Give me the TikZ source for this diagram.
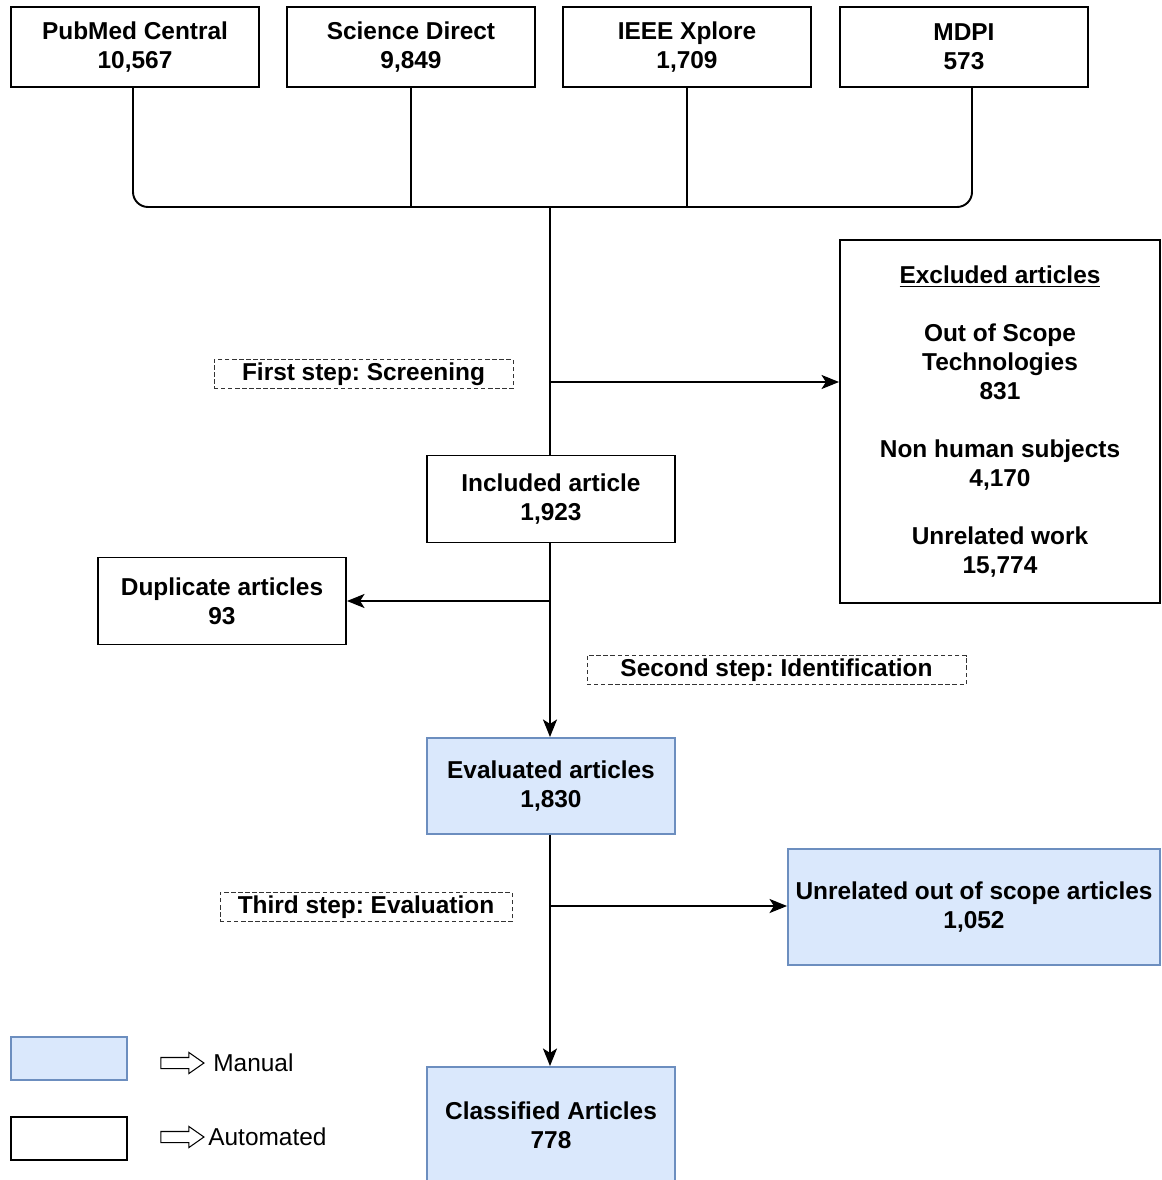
\documentclass[tikz,border=0pt]{standalone}
\usepackage{fontspec}
\setmainfont{Liberation Sans}
\frenchspacing
\usetikzlibrary{arrows.meta,shapes.arrows}
\definecolor{manfill}{HTML}{DAE8FC}
\definecolor{manline}{HTML}{6C8EBF}
\tikzset{
  txt/.style={font=\fontsize{13.9}{16.5}\selectfont\bfseries, align=center},
  autobox/.style={txt, draw=black, line width=1.1pt, fill=white, minimum width=4.96cm, minimum height=1.74cm, inner sep=0pt},
  manbox/.style={autobox, draw=manline, fill=manfill},
  steplabel/.style={txt, draw=black!80, line width=0.5pt, dash pattern=on 2.5pt off 1.5pt, minimum height=0.58cm, inner sep=0pt},
  arr/.style={line width=1.1pt, -{Stealth[length=10pt,width=8pt,inset=2.5pt]}},
  legarrow/.style={single arrow, draw=black, line width=0.6pt, minimum width=0.42cm, minimum height=0.86cm, single arrow head extend=0.1cm, single arrow tip angle=70, inner xsep=0pt, inner ysep=0.1cm}
}
\begin{document}
\begin{tikzpicture}[x=0.02cm, y=-0.02cm]
  \useasboundingbox (0,0) rectangle (1161,1180);
  % sources
  \node[autobox, minimum height=1.6cm] (pmc)  at (135,47) {PubMed Central\\10,567};
  \node[autobox, minimum height=1.6cm] (sd)   at (411,47) {Science Direct\\9,849};
  \node[autobox, minimum height=1.6cm] (ieee) at (687,47) {IEEE Xplore\\1,709};
  \node[autobox, minimum height=1.6cm] (mdpi) at (964,47) {MDPI\\573};
  \coordinate (bus) at (550,207);
  \draw[line width=1.1pt, rounded corners=0.3cm] (pmc.south -| 133,0) |- (bus) -| (mdpi.south -| 972,0);
  \draw[line width=1.1pt] (sd.south) -- (sd.south |- bus);
  \draw[line width=1.1pt] (ieee.south) -- (ieee.south |- bus);
  % screening
  \node[autobox, minimum width=6.4cm, minimum height=7.26cm] (excl) at (1000,421.5)
    {\underline{Excluded articles}\\[16.5pt]
     Out of Scope\\Technologies\\831\\[16.5pt]
     Non human subjects\\4,170\\[16.5pt]
     Unrelated work\\15,774};
  \node[steplabel, minimum width=5.98cm] (scrlab) at (363.5,374) {First step: Screening};
  \node[autobox] (incl) at (551,499) {Included article\\1,923};
  \draw[line width=1.1pt] (bus) -- (bus |- incl.north);
  \coordinate (scr) at (550,382);
  \draw[arr] (scr) -- (scr -| excl.west);
  % identification
  \node[autobox] (dupl) at (222,601) {Duplicate articles\\93};
  \node[steplabel, minimum width=7.58cm] (idlab) at (776.5,670) {Second step: Identification};
  \node[manbox, minimum height=1.92cm] (eval) at (551,786) {Evaluated articles\\1,830};
  \coordinate (dup) at (550,601);
  \draw[arr] (dup) -- (dup -| dupl.east);
  \draw[arr] (incl.south -| bus) -- (eval.north -| bus);
  % evaluation
  \node[steplabel, minimum width=5.84cm] (evlab) at (366,907) {Third step: Evaluation};
  \node[manbox, minimum width=7.44cm, minimum height=2.32cm] (unrel) at (974,907) {Unrelated out of scope articles\\1,052};
  \node[manbox, minimum height=2.32cm] (clas) at (551,1125) {Classified Articles\\778};
  \coordinate (ev) at (550,906);
  \draw[arr] (ev) -- (ev -| unrel.west);
  \draw[arr] (eval.south -| bus) -- (clas.north -| bus);
  % legend
  \node[draw=manline, fill=manfill, line width=0.8pt, minimum width=2.32cm, minimum height=0.86cm] (legman) at (69,1058.5) {};
  \node[draw=black, line width=0.8pt, minimum width=2.32cm, minimum height=0.86cm] (legauto) at (69,1138.5) {};
  \node[legarrow] (arrman) at (178.5,1063) {};
  \node[legarrow] (arrauto) at (178.5,1137) {};
  \node[txt, font=\fontsize{13.9}{16.5}\selectfont, anchor=west, inner sep=0pt] (txtman) at (213,1063) {Manual};
  \node[txt, font=\fontsize{13.9}{16.5}\selectfont, anchor=west, inner sep=0pt] (txtauto) at (208,1137) {Automated};
\end{tikzpicture}
\end{document}
